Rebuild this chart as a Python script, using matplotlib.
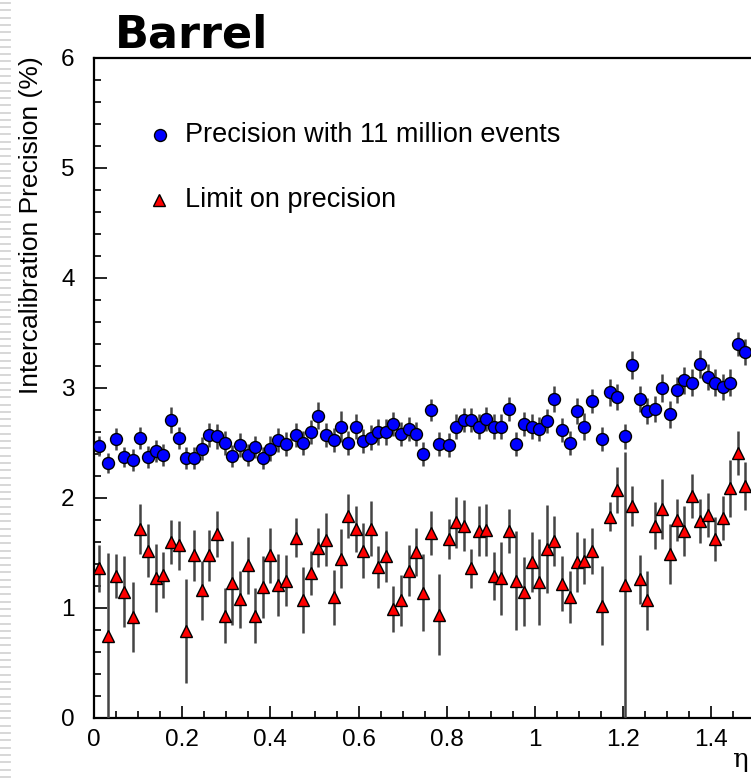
import matplotlib
matplotlib.use("Agg")
import matplotlib.pyplot as plt
from matplotlib.lines import Line2D
from matplotlib.ticker import MultipleLocator

plt.rcParams['font.family'] = ['Liberation Sans', 'DejaVu Sans']

# pseudorapidity of each crystal ring
eta = [0.012, 0.031, 0.050, 0.068, 0.088, 0.105, 0.122, 0.140, 0.157, 0.174,
       0.192, 0.209, 0.227, 0.244, 0.261, 0.278, 0.296, 0.314, 0.330, 0.349,
       0.365, 0.383, 0.399, 0.417, 0.435, 0.457, 0.474, 0.491, 0.508, 0.525,
       0.544, 0.559, 0.577, 0.593, 0.611, 0.628, 0.645, 0.662, 0.679, 0.697,
       0.714, 0.731, 0.747, 0.764, 0.782, 0.804, 0.821, 0.838, 0.856, 0.873,
       0.890, 0.907, 0.924, 0.941, 0.958, 0.974, 0.993, 1.010, 1.027, 1.044,
       1.061, 1.079, 1.095, 1.112, 1.129, 1.151, 1.169, 1.186, 1.203, 1.220,
       1.237, 1.254, 1.272, 1.289, 1.306, 1.322, 1.339, 1.357, 1.375, 1.392,
       1.408, 1.426, 1.443, 1.460, 1.476]

precision = [2.47, 2.32, 2.54, 2.37, 2.35, 2.55, 2.37, 2.43, 2.39, 2.71,
             2.55, 2.36, 2.36, 2.45, 2.57, 2.56, 2.50, 2.38, 2.48, 2.39,
             2.46, 2.36, 2.45, 2.53, 2.49, 2.57, 2.50, 2.60, 2.75, 2.57,
             2.53, 2.65, 2.50, 2.65, 2.52, 2.55, 2.60, 2.60, 2.67, 2.58,
             2.63, 2.58, 2.40, 2.80, 2.49, 2.48, 2.65, 2.71, 2.71, 2.65,
             2.72, 2.65, 2.65, 2.81, 2.49, 2.67, 2.65, 2.63, 2.70, 2.90,
             2.62, 2.50, 2.79, 2.65, 2.88, 2.54, 2.96, 2.92, 2.56, 3.21,
             2.90, 2.79, 2.81, 3.00, 2.76, 2.98, 3.07, 3.05, 3.22, 3.10,
             3.05, 3.01, 3.05, 3.40, 3.33]

precision_err = [0.09, 0.09, 0.10, 0.09, 0.10, 0.10, 0.10, 0.10, 0.10, 0.12,
                 0.10, 0.10, 0.10, 0.10, 0.11, 0.11, 0.11, 0.10, 0.11, 0.10,
                 0.10, 0.10, 0.11, 0.11, 0.11, 0.11, 0.11, 0.11, 0.12, 0.11,
                 0.11, 0.14, 0.11, 0.11, 0.11, 0.11, 0.12, 0.12, 0.11, 0.11,
                 0.11, 0.11, 0.11, 0.10, 0.11, 0.11, 0.11, 0.11, 0.11, 0.11,
                 0.11, 0.11, 0.11, 0.11, 0.11, 0.11, 0.11, 0.11, 0.11, 0.12,
                 0.11, 0.11, 0.12, 0.12, 0.11, 0.11, 0.12, 0.12, 0.11, 0.13,
                 0.12, 0.12, 0.12, 0.13, 0.12, 0.12, 0.12, 0.12, 0.13, 0.12,
                 0.12, 0.12, 0.12, 0.11, 0.12]

limit = [1.36, 0.75, 1.29, 1.15, 0.92, 1.72, 1.52, 1.27, 1.30, 1.60,
         1.57, 0.79, 1.48, 1.16, 1.48, 1.67, 0.93, 1.23, 1.08, 1.39,
         0.93, 1.19, 1.48, 1.21, 1.25, 1.64, 1.07, 1.32, 1.55, 1.62,
         1.10, 1.45, 1.84, 1.72, 1.52, 1.72, 1.37, 1.47, 0.99, 1.07,
         1.34, 1.51, 1.14, 1.68, 0.94, 1.63, 1.78, 1.75, 1.36, 1.70,
         1.71, 1.29, 1.27, 1.70, 1.25, 1.15, 1.42, 1.24, 1.54, 1.61,
         1.22, 1.10, 1.42, 1.43, 1.52, 1.02, 1.83, 2.07, 1.21, 1.93,
         1.26, 1.07, 1.75, 1.90, 1.49, 1.80, 1.70, 2.02, 1.79, 1.85,
         1.63, 1.82, 2.09, 2.41, 2.11]

limit_err = [0.21, 0.75, 0.20, 0.32, 0.32, 0.23, 0.24, 0.31, 0.21, 0.20,
             0.22, 0.47, 0.23, 0.27, 0.23, 0.21, 0.25, 0.38, 0.26, 0.26,
             0.25, 0.28, 0.25, 0.28, 0.23, 0.18, 0.30, 0.20, 0.18, 0.24,
             0.25, 0.27, 0.20, 0.21, 0.25, 0.25, 0.19, 0.23, 0.21, 0.23,
             0.23, 0.22, 0.35, 0.20, 0.37, 0.18, 0.23, 0.23, 0.18, 0.23,
             0.24, 0.22, 0.33, 0.20, 0.45, 0.31, 0.27, 0.39, 0.40, 0.23,
             0.25, 0.24, 0.27, 0.21, 0.21, 0.36, 0.13, 0.21, 1.21, 0.18,
             0.22, 0.27, 0.21, 0.27, 0.27, 0.19, 0.23, 0.20, 0.20, 0.20,
             0.20, 0.20, 0.26, 0.20, 0.22]

legend_labels = ["Precision with 11 million events", "Limit on precision"]

W, H = 751, 780
fig = plt.figure(figsize=(W / 100, H / 100), dpi=100)
ax = fig.add_axes([94 / W, 62 / H, 661.5 / W, 660 / H])

MS_C, MS_T = 8.6, 9.0
ax.errorbar(eta, precision, yerr=precision_err, fmt='o', ms=MS_C,
            mfc='#0000ff', mec='black', mew=1.0, ecolor='#444444',
            elinewidth=1.8, capsize=0, zorder=3)
ax.errorbar(eta, limit, yerr=limit_err, fmt='^', ms=MS_T,
            mfc='#ff0000', mec='black', mew=1.0, ecolor='#444444',
            elinewidth=1.8, capsize=0, zorder=3)

ax.set_xlim(0, 1.5)
ax.set_ylim(0, 6)
ax.xaxis.set_major_locator(MultipleLocator(0.2))
ax.xaxis.set_minor_locator(MultipleLocator(0.05))
ax.yaxis.set_major_locator(MultipleLocator(1))
ax.yaxis.set_minor_locator(MultipleLocator(0.2))
ax.xaxis.set_major_formatter(matplotlib.ticker.FuncFormatter(lambda v, p: f"{v:g}"))
ax.tick_params(which='both', direction='in', top=False, right=False,
               labelsize=17.5, width=1.2, color='black')
ax.tick_params(which='major', length=9)
ax.tick_params(which='minor', length=5)
ax.tick_params(axis='y', pad=14)
ax.tick_params(axis='x', pad=8)
for s in ax.spines.values():
    s.set_linewidth(1.6)

# legend (manual, ROOT style)
ax.plot([0.0998], [0.8833], 'o', ms=MS_C, mfc='#0000ff', mec='black', mew=1.0,
        transform=ax.transAxes, clip_on=False)
ax.plot([0.098], [0.7848], '^', ms=MS_T, mfc='#ff0000', mec='black', mew=1.0,
        transform=ax.transAxes, clip_on=False)
ax.text(0.1376, 0.8833, legend_labels[0], transform=ax.transAxes,
        fontsize=19.5, va='center', ha='left')
ax.text(0.1376, 0.7848, legend_labels[1], transform=ax.transAxes,
        fontsize=19.5, va='center', ha='left')

fig.text(31 / W, 1 - 56 / H, "Intercalibration Precision (%)", rotation=90,
         ha='center', va='top', fontsize=19)
fig.text(748 / W, 1 - 760 / H, "η", ha='right', va='center', fontsize=19,
         family=['DejaVu Serif'])
fig.text(115 / W, 1 - 35 / H, "Barrel", ha='left', va='center', fontsize=32,
         fontweight='bold', family=['DejaVu Sans'])

# slide background strip on the left edge
for k in range(108):
    yy = 1 - (3 + k * 7.3) / H
    fig.add_artist(Line2D([0, 10 / W], [yy, yy], transform=fig.transFigure,
                          color='#d4d4d4', lw=1.3))

fig.savefig("out.png", dpi=100)
